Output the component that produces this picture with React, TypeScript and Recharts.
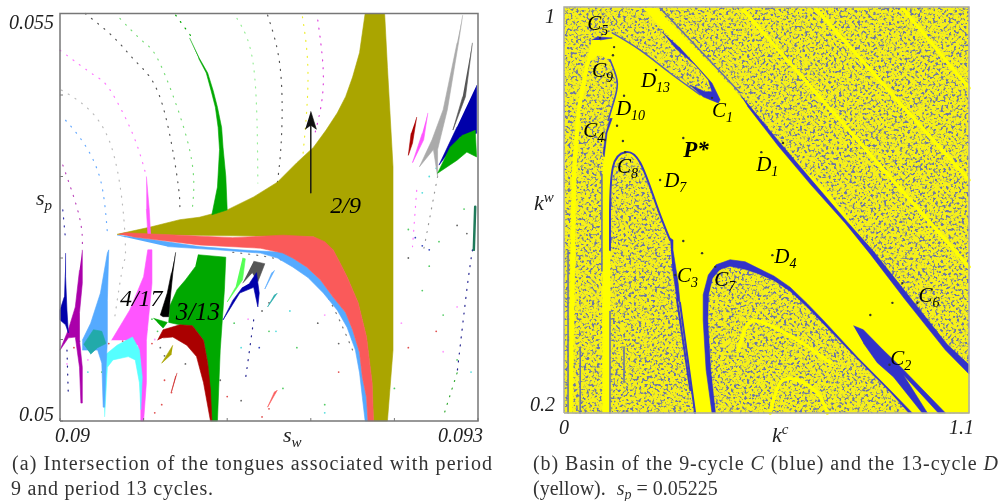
import React from 'react';
import { ScatterChart, Scatter, XAxis, YAxis } from 'recharts';

type Row = [number, number];
const SERIF = '"Liberation Serif", "DejaVu Serif", serif';

// panel (a): s_w and s_p, both in units of 1e-3
const swTicks = [90, 90.6, 91.2, 91.8, 92.4, 93];
const spTicks = [50, 51, 52, 53, 54, 55];
const swLabels: Record<number, string> = { 90: '0.09', 93: '0.093' };
const spLabels: Record<number, string> = { 50: '0.05', 55: '0.055' };

const tongue29: Row[] = [[92.19, 55], [92.17, 54.76], [92.15, 54.52], [92.1, 54.22], [92.05, 53.98], [91.99, 53.78], [91.91, 53.57], [91.82, 53.36], [91.7, 53.17], [91.56, 52.93], [91.39, 52.75], [91.2, 52.59], [91, 52.5], [90.86, 52.47], [90.65, 52.38], [90.41, 52.29], [91.82, 52.26], [91.96, 52.1], [92.06, 51.77], [92.14, 51.45], [92.2, 51.03], [92.24, 50.47], [92.25, 50], [92.35, 50], [92.39, 50.87], [92.39, 53.12], [92.35, 54.34], [92.33, 55]];
const tongueRed: Row[] = [[90.42, 52.29], [90.47, 52.31], [91.24, 52.25], [91.6, 52.28], [91.82, 52.26], [91.9, 52.2], [91.96, 52.1], [92.01, 51.94], [92.06, 51.77], [92.1, 51.61], [92.14, 51.45], [92.17, 51.24], [92.2, 51.03], [92.22, 50.75], [92.24, 50.47], [92.25, 50], [92.21, 50], [92.2, 50.29], [92.17, 50.54], [92.15, 50.84], [92.1, 51.12], [92.05, 51.33], [91.96, 51.52], [91.87, 51.73], [91.77, 51.89], [91.67, 52], [91.6, 52.06], [91.44, 52.12], [91, 52.16], [90.52, 52.26]];
const tongueSky: Row[] = [[90.41, 52.28], [90.52, 52.26], [91, 52.14], [91.29, 52.1], [91.6, 52.07], [91.67, 52], [91.77, 51.89], [91.87, 51.73], [91.96, 51.52], [92.05, 51.33], [92.1, 51.12], [92.15, 50.84], [92.17, 50.54], [92.2, 50.29], [92.21, 50], [92.19, 50], [92.17, 50.29], [92.15, 50.59], [92.12, 50.87], [92.06, 51.15], [91.99, 51.36], [91.89, 51.57], [91.78, 51.76], [91.67, 51.89], [91.56, 52], [91.44, 52.06], [91.13, 52.1], [90.77, 52.14]];
const tongue313: Row[] = [[90.99, 52.04], [91.19, 52.01], [91.18, 51.61], [91.15, 50.87], [91.13, 50], [91.09, 50], [91.06, 50.71], [91.03, 50.99], [90.95, 51.17], [90.86, 51.18], [90.78, 51.21], [90.79, 51.42], [90.84, 51.61], [90.9, 51.73], [90.97, 51.89]];
const tongueDarkRed: Row[] = [[90.7, 50.99], [90.74, 51.12], [90.86, 51.18], [90.95, 51.17], [91.03, 50.99], [91.06, 50.71], [91.08, 50.38], [91.09, 50], [91.08, 50], [91.03, 50.47], [90.98, 50.79], [90.91, 50.93], [90.81, 51.03], [90.74, 51.02]];
const tongueGreenUp: Row[] = [[90.93, 54.7], [91, 54.45], [91.06, 54.27], [91.1, 54.05], [91.13, 53.85], [91.16, 53.6], [91.17, 53.36], [91.19, 53], [91.2, 52.59], [91.09, 52.53], [91.13, 52.87], [91.145, 53.33], [91.135, 53.6], [91.115, 53.85], [91.085, 54.05], [91.05, 54.27], [90.995, 54.45]];
const tongueMagenta: Row[] = [[90.37, 50.99], [90.5, 51.36], [90.6, 51.77], [90.63, 52.1], [90.66, 52.1], [90.66, 51.69], [90.62, 50.99], [90.62, 50.47], [90.6, 50], [90.58, 50], [90.58, 50.71], [90.56, 50.93], [90.47, 50.99]];
const tongueMagentaTop: Row[] = [[90.62, 53], [90.64, 52.6], [90.65, 52.3], [90.63, 52.3], [90.62, 52.6]];
const tongueCyan: Row[] = [[90.31, 50.79], [90.41, 50.93], [90.52, 51.03], [90.57, 50.87], [90.59, 50.54], [90.58, 50.14], [90.57, 50.47], [90.54, 50.75], [90.49, 50.79], [90.38, 50.75], [90.34, 50.66], [90.32, 50.05]];
const tongueBlue: Row[] = [[90.16, 50.99], [90.22, 51.2], [90.29, 51.57], [90.34, 52.06], [90.35, 52.1], [90.34, 51.48], [90.34, 50.99], [90.33, 50.63], [90.32, 50.17], [90.31, 50.17], [90.3, 50.71], [90.27, 50.87], [90.22, 50.87], [90.16, 50.87]];
const tongueTeal: Row[] = [[90.17, 50.94], [90.24, 51.12], [90.3, 51.1], [90.33, 50.95], [90.27, 50.9], [90.22, 50.82]];
const tonguePurple: Row[] = [[90.16, 52.1], [90.16, 51.69], [90.14, 51.33], [90.14, 50.99], [90.16, 50.66], [90.16, 50.22], [90.15, 50.22], [90.14, 50.66], [90.11, 51.03], [90.06, 51.02], [90, 50.87], [90.06, 51.12], [90.11, 51.4], [90.14, 51.85]];
const tongueNavy: Row[] = [[90.04, 52.06], [90.04, 51.77], [90.05, 51.36], [90.06, 51.08], [90.04, 51.18], [90, 51.24], [90, 51.36], [90.03, 51.52]];
const tongueBlack: Row[] = [[90.83, 52.07], [90.81, 51.82], [90.79, 51.48], [90.78, 51.28], [90.74, 51.28], [90.72, 51.3], [90.77, 51.57], [90.8, 51.82]];
const tongueGreenWedge: Row[] = [[90.67, 51.26], [90.77, 51.21], [90.74, 51.14], [90.7, 51.21]];
const tongueLime: Row[] = [[91.31, 52], [91.33, 51.99], [91.31, 51.73], [91.2, 51.46], [91.26, 51.64]];
const tongueGray: Row[] = [[91.39, 51.96], [91.47, 51.93], [91.42, 51.71], [91.38, 51.82], [91.31, 51.69]];
const tongueDeepBlue: Row[] = [[91.36, 51.69], [91.41, 51.82], [91.43, 51.57], [91.42, 51.4], [91.39, 51.64], [91.29, 51.57], [91.17, 51.24], [91.24, 51.48], [91.31, 51.64]];
const tongueNavyRight: Row[] = [[92.99, 54.12], [92.99, 53.53], [92.87, 53.48], [92.72, 53.14], [92.85, 53.61]];
const tongueGreenRight: Row[] = [[92.98, 53.57], [92.99, 53.24], [92.92, 53.3], [92.85, 53.2], [92.71, 53.04], [92.8, 53.36], [92.89, 53.51]];
const tongueGrayRight: Row[] = [[92.89, 54.98], [92.86, 54.64], [92.78, 53.82], [92.71, 53.33], [92.71, 53], [92.68, 53.33], [92.58, 53.12], [92.67, 53.45], [92.75, 53.82], [92.85, 54.64]];
const tonguePinkRight: Row[] = [[92.64, 53.78], [92.61, 53.45], [92.53, 53.17], [92.6, 53.53]];
const tongueRedRight: Row[] = [[92.56, 53.73], [92.53, 53.41], [92.5, 53.26], [92.52, 53.53]];
const tongueSmoke: Row[] = [[92.96, 54.64], [92.91, 53.98], [92.82, 53.57], [92.89, 53.98]];
const sliverRed: Row[] = [[90.84, 50.59], [90.8, 50.36], [90.83, 50.55]];
const sliverSalmon: Row[] = [[91.56, 50.38], [91.49, 50.17], [91.54, 50.36]];
const sliverTeal: Row[] = [[91.56, 51.57], [91.49, 51.4], [91.54, 51.55]];
const sliverSky: Row[] = [[91.54, 51.85], [91.47, 51.62], [91.52, 51.82]];
const sliverOlive: Row[] = [[90.81, 50.93], [90.73, 50.71], [90.8, 50.82]];

const dottedArcs: { color: string; rows: Row[] }[] = [
  { color: '#555555', rows: [[90.18, 55], [90.39, 54.7], [90.55, 54.4], [90.72, 53.96], [90.84, 53.0], [90.86, 52.6]] },
  { color: '#77dd77', rows: [[90.43, 54.94], [90.6, 54.65], [90.73, 54.34], [90.93, 53.33], [90.95, 52.61]] },
  { color: '#00a800', rows: [[90.83, 54.98], [90.95, 54.7]] },
  { color: '#ff77ff', rows: [[90, 54.55], [90.24, 54.25], [90.36, 54.06], [90.52, 53.53], [90.62, 53]] },
  { color: '#bbbbbb', rows: [[90.01, 54.06], [90.19, 53.85], [90.36, 53.41], [90.45, 52.63], [90.47, 52.06], [90.45, 51.89], [90.39, 51.24]] },
  { color: '#66aaff', rows: [[90.04, 53.69], [90.17, 53.41], [90.29, 52.96], [90.34, 52.31]] },
  { color: '#bb44bb', rows: [[90.02, 53.14], [90.14, 52.5], [90.16, 52.1]] },
  { color: '#3333aa', rows: [[90.02, 52.59], [90.04, 52.22]] },
  { color: '#99ee99', rows: [[91.27, 54.94], [91.39, 54.34], [91.42, 52.92]] },
  { color: '#555555', rows: [[91.49, 54.98], [91.58, 54.34], [91.59, 53.5], [91.56, 52.92]] },
  { color: '#eeee33', rows: [[91.74, 54.96], [91.78, 54.22], [91.74, 53.2]] },
  { color: '#dd44dd', rows: [[91.85, 54.92], [91.89, 54.15], [91.83, 53.53]] },
  { color: '#777777', rows: [[91.24, 52.07], [91.72, 51.89], [91.96, 51.4], [92.1, 50.87]] },
  { color: '#999999', rows: [[92.71, 53], [92.61, 52.1]] },
  { color: '#ff77ff', rows: [[92.56, 52.83], [92.53, 52.14]] },
  { color: '#22228f', rows: [[92.96, 52.1], [92.92, 51.61], [92.85, 50.59]] },
  { color: '#33aa33', rows: [[92.85, 50.59], [92.75, 50.05]] },
  { color: '#22228f', rows: [[91.39, 51.24], [91.33, 50.5]] },
  { color: '#22228f', rows: [[90.05, 50.87], [90.06, 50.3]] },
];

const dustGreen: Row[] = [[90.62, 51.12], [90.6, 51.2], [90.55, 51.1], [90.45, 51.05], [90.66, 51.25], [90.7, 51.1], [90.14, 50.98], [90.3, 50.6], [91.25, 51.2], [91.5, 51.1], [91.7, 50.9], [92.1, 51], [92.6, 51.6], [92.75, 51.3], [92.4, 50.4], [91.6, 50.4], [91.9, 50.2], [92.85, 50.75], [92.9, 52.6], [92.72, 52.2], [92.5, 52.35], [92.65, 51.9]];
const dustRed: Row[] = [[90.1, 50.9], [90.2, 50.9], [90.35, 50.95], [90.45, 50.98], [90.5, 50.9], [90.58, 51], [90.66, 50.95], [90.75, 50.5], [90.73, 50.2], [90.8, 50.35], [90.68, 50.1], [91.5, 50.15], [91.45, 50.05], [91.2, 50.3], [92.5, 50.9], [92, 50.6], [92.7, 51.1]];
const dustPink: Row[] = [[90.2, 50.75], [90.3, 50.85], [90.42, 50.9], [90.55, 50.95], [90.05, 50.7], [90.68, 51], [91.35, 51.25], [91.9, 51.3], [92.45, 51.2], [92.3, 50.8], [91.1, 50.8], [92.75, 50.85], [92.85, 51.4]];
const dustGray: Row[] = [[90.75, 50.8], [90.72, 50.9], [90.9, 50.7], [91.15, 50.5], [91.3, 50.25], [91.45, 51.35], [91.5, 51.45], [92.85, 52.4], [92.92, 52.3], [92.5, 52], [92.3, 52.3], [92, 50.95], [91.85, 51.2]];
const dustCyan: Row[] = [[90.2, 50.6], [91.55, 51.1], [91.65, 51.35], [91.9, 50.1], [92.65, 53], [92.7, 53.1], [92.95, 50.6], [92.3, 51], [91.3, 50.9], [92.6, 52.8]];
const dustBlue: Row[] = [[92.55, 52.25], [92.6, 52.15], [92.65, 52.1], [91.43, 50.9]];

const arrowShaft: Row[] = [[91.8, 52.8], [91.8, 53.7]];
const arrowHead: Row[] = [[91.8, 53.8], [91.84, 53.58], [91.8, 53.63], [91.76, 53.58]];
const rightEdgeTongue: Row[] = [[92.98, 52.63], [92.97, 52.1]];

const tongueNames = [
  { main: '2/9', x: 91.94, y: 52.55, size: 24 },
  { main: '4/17', x: 90.43, y: 51.41, size: 24 },
  { main: '3/13', x: 90.83, y: 51.24, size: 25 },
];

// panel (b): k^c and k^w
const kcTicks = [0, 1.1];
const kwTicks = [0.2, 1];
const kcLabels: Record<number, string> = { 0: '0', 1.1: '1.1' };
const kwLabels: Record<number, string> = { 0.2: '0.2', 1: '1' };

const basinRect: Row[] = [[0, 0.2], [1.1, 0.2], [1.1, 1], [0, 1]];
const basinMain: Row[] = [[0.076, 0.935], [0.131, 0.949], [0.207, 0.915], [0.288, 0.87], [0.37, 0.827], [0.419, 0.811], [0.405, 0.836], [0.343, 0.901], [0.269, 0.955], [0.215, 0.998], [0.25, 0.998], [0.362, 0.915], [0.47, 0.831], [0.587, 0.726], [0.723, 0.63], [0.84, 0.517], [1.1, 0.277], [1.1, 0.2], [0.356, 0.2], [0.334, 0.324], [0.307, 0.456], [0.288, 0.541], [0.253, 0.606], [0.207, 0.693], [0.166, 0.714], [0.133, 0.685], [0.125, 0.594], [0.125, 0.2], [0.011, 0.2], [0.016, 0.423], [0.022, 0.679], [0.035, 0.797], [0.054, 0.876]];
const islandC9: Row[] = [[0.092, 0.905], [0.125, 0.896], [0.144, 0.856], [0.139, 0.823], [0.12, 0.777], [0.109, 0.732], [0.103, 0.673], [0.103, 0.2], [0.024, 0.2], [0.03, 0.423], [0.035, 0.679], [0.046, 0.797], [0.071, 0.892]];
const archOuter: Row[] = [[0.402, 0.2], [0.386, 0.285], [0.378, 0.383], [0.378, 0.433], [0.392, 0.472], [0.413, 0.492], [0.451, 0.502], [0.492, 0.498], [0.525, 0.486], [0.57, 0.47], [0.614, 0.448], [0.66, 0.416], [0.704, 0.383], [0.797, 0.31], [0.886, 0.245], [0.946, 0.2]];
const archInner: Row[] = [[0.413, 0.2], [0.4, 0.285], [0.392, 0.383], [0.394, 0.433], [0.405, 0.466], [0.424, 0.482], [0.451, 0.488], [0.492, 0.482], [0.525, 0.474], [0.57, 0.46], [0.614, 0.439], [0.66, 0.408], [0.704, 0.375], [0.797, 0.305], [0.886, 0.24], [0.935, 0.2]];
const blueC1: Row[] = [[0.266, 0.951], [0.315, 0.919], [0.37, 0.876], [0.402, 0.85], [0.424, 0.817], [0.419, 0.811], [0.378, 0.823], [0.343, 0.846], [0.383, 0.833], [0.402, 0.833], [0.392, 0.856], [0.356, 0.886], [0.302, 0.919]];
const blueC2: Row[] = [[0.786, 0.372], [0.813, 0.364], [0.867, 0.324], [0.914, 0.291], [0.949, 0.265], [1.036, 0.2], [1.017, 0.2], [0.922, 0.275], [0.987, 0.2], [0.973, 0.2], [0.895, 0.271], [0.851, 0.299], [0.813, 0.338]];
const blueC3: Row[] = [[0.288, 0.545], [0.296, 0.541], [0.296, 0.521], [0.31, 0.456], [0.315, 0.417], [0.307, 0.423], [0.294, 0.488]];
const blueC4: Row[] = [[0.131, 0.781], [0.117, 0.752], [0.109, 0.705], [0.106, 0.712], [0.114, 0.752], [0.125, 0.781]];
const blueC5: Row[] = [[0.076, 0.935], [0.092, 0.941], [0.131, 0.939], [0.098, 0.935]];
const blueC6: Row[] = [[0.478, 0.828], [0.587, 0.732], [0.677, 0.655], [0.769, 0.577], [0.84, 0.519], [0.949, 0.419], [1.041, 0.335], [1.1, 0.295], [1.1, 0.277], [1.036, 0.324], [0.927, 0.423], [0.832, 0.513], [0.764, 0.574], [0.669, 0.651], [0.582, 0.726], [0.498, 0.805]];

const yellowStrips: Row[][] = [
  [[0.487, 0.994], [1.1, 0.488]],
  [[0.682, 0.998], [1.1, 0.659]],
  [[0.919, 0.998], [1.1, 0.84]],
];
const innerArcs: Row[][] = [
  [[0.473, 0.324], [0.498, 0.374], [0.541, 0.378], [0.634, 0.344], [0.723, 0.299]],
  [[0.56, 0.2], [0.587, 0.259], [0.634, 0.265], [0.688, 0.239], [0.715, 0.2]],
];
const edgeC8: Row[] = [[0.125, 0.521], [0.125, 0.594], [0.133, 0.685], [0.166, 0.714], [0.207, 0.693], [0.253, 0.606], [0.288, 0.541]];
const edgeC9: Row[] = [[0.125, 0.896], [0.144, 0.856], [0.139, 0.823], [0.12, 0.777]];
const edgeTop: Row[] = [[0.131, 0.949], [0.207, 0.915], [0.288, 0.87], [0.37, 0.827]];
const edgeStrip: Row[] = [[0.261, 0.998], [0.478, 0.831]];
const tailsC3: Row[][] = [
  [[0.315, 0.417], [0.356, 0.2]],
  [[0.307, 0.423], [0.343, 0.245]],
];
const grayStreaks: Row[][] = [
  [[0.011, 0.2], [0.011, 0.52]],
  [[0.044, 0.2], [0.044, 0.33]],
  [[0.125, 0.2], [0.125, 0.4]],
  [[0.163, 0.26], [0.163, 0.33]],
  [[0.103, 0.48], [0.103, 0.67]],
];

const cyclePoints: Row[] = [[0.136, 0.921], [0.133, 0.905], [0.25, 0.876], [0.163, 0.825], [0.144, 0.766], [0.16, 0.736], [0.324, 0.742], [0.536, 0.714], [0.261, 0.659], [0.324, 0.539], [0.375, 0.515], [0.566, 0.511], [0.892, 0.417], [0.832, 0.393], [0.919, 0.456], [0.96, 0.417], [0.884, 0.295], [0.411, 0.488], [0.302, 0.472], [0.402, 0.821], [0.111, 0.738], [0.166, 0.714], [0.098, 0.939], [0.595, 0.732]];

const cycleNames = [
  { main: 'C', sub: '5', x: 0.063, y: 0.955 },
  { main: 'C', sub: '9', x: 0.076, y: 0.862 },
  { main: 'D', sub: '13', x: 0.209, y: 0.842 },
  { main: 'C', sub: '1', x: 0.402, y: 0.783 },
  { main: 'D', sub: '10', x: 0.141, y: 0.787 },
  { main: 'C', sub: '4', x: 0.052, y: 0.744 },
  { main: 'D', sub: '1', x: 0.522, y: 0.677 },
  { main: 'C', sub: '8', x: 0.144, y: 0.673 },
  { main: 'D', sub: '7', x: 0.272, y: 0.645 },
  { main: 'C', sub: '3', x: 0.307, y: 0.458 },
  { main: 'C', sub: '7', x: 0.408, y: 0.45 },
  { main: 'D', sub: '4', x: 0.571, y: 0.496 },
  { main: 'C', sub: '6', x: 0.963, y: 0.419 },
  { main: 'C', sub: '2', x: 0.886, y: 0.295 },
];
const fixedPointName = [{ main: 'P*', x: 0.324, y: 0.705 }];

const toPoints = (rows: Row[]) => rows.map(([x, y]) => ({ x, y }));
const NoDot = () => null;

const region = (key: string, rows: Row[], fill: string) => (
  <Scatter key={key} data={toPoints(rows)} shape={NoDot} isAnimationActive={false}
    line={{ fill, stroke: fill, strokeWidth: 0.6 }} lineJointType="linear" />
);
const stroke = (key: string, rows: Row[], color: string, width: number, dash?: string) => (
  <Scatter key={key} data={toPoints(rows)} shape={NoDot} isAnimationActive={false}
    line={{ fill: 'none', stroke: color, strokeWidth: width, strokeDasharray: dash, strokeLinecap: 'round' }}
    lineJointType={rows.length > 2 ? 'natural' : 'linear'} />
);
const frame = (key: string, rows: Row[], color: string) => (
  <Scatter key={key} data={toPoints(rows)} shape={NoDot} isAnimationActive={false}
    line={{ fill: 'none', stroke: color, strokeWidth: 1.5 }} lineJointType="linear" />
);
const dust = (key: string, rows: Row[], color: string) => (
  <Scatter key={key} data={toPoints(rows)} isAnimationActive={false}
    shape={(p: any) => <circle cx={p.cx} cy={p.cy} r={0.9} fill={color} />} />
);

const Name = (p: any) => (
  <text x={p.cx} y={p.cy} fontFamily={SERIF} fontStyle="italic" fontSize={p.payload.size ?? 21} fill="#000">
    {p.payload.main}
    {p.payload.sub && <tspan dy={5} fontSize={14}>{p.payload.sub}</tspan>}
  </text>
);
const BoldName = (p: any) => (
  <text x={p.cx} y={p.cy} fontFamily={SERIF} fontStyle="italic" fontWeight="bold" fontSize={23} fill="#000">{p.payload.main}</text>
);

const tickText = { fontFamily: SERIF, fontStyle: 'italic', fontSize: 20, fill: '#222' } as const;

const bottomTick = (labels: Record<number, string>, mark: number, last: number) => (p: any) => {
  const text = labels[p.payload.value];
  return (
    <g>
      {mark > 0 && <line x1={p.x} x2={p.x} y1={p.y} y2={p.y - mark} stroke="#777" />}
      {text && (
        <text {...tickText} x={p.payload.value === last ? p.x + 5 : p.x - 5} y={p.y + 21}
          textAnchor={p.payload.value === last ? 'end' : 'start'}>{text}</text>
      )}
    </g>
  );
};
const leftTick = (labels: Record<number, string>, mark: number, top: number, right: number, topDy: number, lowDy: number) => (p: any) => {
  const text = labels[p.payload.value];
  return (
    <g>
      {mark > 0 && <line x1={p.x} x2={p.x + mark} y1={p.y} y2={p.y} stroke="#777" />}
      {text && (
        <text {...tickText} x={p.x - right} y={p.payload.value === top ? p.y + topDy : p.y + lowDy} textAnchor="end">{text}</text>
      )}
    </g>
  );
};
const topMark = (p: any) => <line x1={p.x} x2={p.x} y1={p.y} y2={p.y + 3} stroke="#777" />;
const rightMark = (p: any) => <line x1={p.x} x2={p.x - 3} y1={p.y} y2={p.y} stroke="#777" />;

const TonguesPanel = () => (
  <ScatterChart width={500} height={450} margin={{ top: 13.5, right: 22, bottom: 0, left: 0 }}>
    <XAxis type="number" dataKey="x" domain={[90, 93]} ticks={swTicks} height={29} interval={0} tickSize={0} tickMargin={0}
      axisLine={false} tickLine={false} tick={bottomTick(swLabels, 3, 93)} />
    <YAxis type="number" dataKey="y" domain={[50, 55]} ticks={spTicks} width={60} interval={0} tickSize={0} tickMargin={0}
      axisLine={false} tickLine={false} tick={leftTick(spLabels, 3, 55, 6, 15, 0)} />
    <XAxis xAxisId="top" orientation="top" type="number" dataKey="x" domain={[90, 93]} ticks={swTicks} height={0} interval={0}
      tickSize={0} tickMargin={0} axisLine={false} tickLine={false} tick={topMark} />
    <YAxis yAxisId="right" orientation="right" type="number" dataKey="y" domain={[50, 55]} ticks={spTicks} width={0} interval={0}
      tickSize={0} tickMargin={0} axisLine={false} tickLine={false} tick={rightMark} />

    {dottedArcs.map((a, i) => stroke(`arc${i}`, a.rows, a.color, 1.2, '1 7'))}
    {dust('dg', dustGreen, '#55cc66')}
    {dust('dr', dustRed, '#e05050')}
    {dust('dp', dustPink, '#ff99ff')}
    {dust('dk', dustGray, '#666666')}
    {dust('dc', dustCyan, '#55dddd')}
    {dust('db', dustBlue, '#3344bb')}

    {region('sky', tongueSky, '#55aaff')}
    {region('t29', tongue29, '#aaa500')}
    {region('red', tongueRed, '#fa5a5a')}
    {region('t313', tongue313, '#00a800')}
    {region('dred', tongueDarkRed, '#aa0000')}
    {region('gup', tongueGreenUp, '#00a800')}
    {region('mag', tongueMagenta, '#ff55ff')}
    {region('magt', tongueMagentaTop, '#ff55ff')}
    {region('cyan', tongueCyan, '#55ffff')}
    {region('blue', tongueBlue, '#55aaff')}
    {region('teal', tongueTeal, '#22aaaa')}
    {region('pur', tonguePurple, '#aa00aa')}
    {region('navy', tongueNavy, '#0000aa')}
    {region('blk', tongueBlack, '#000000')}
    {region('gw', tongueGreenWedge, '#00a800')}
    {region('lime', tongueLime, '#55ff55')}
    {region('gray', tongueGray, '#555555')}
    {region('deep', tongueDeepBlue, '#0000aa')}
    {region('gr', tongueGrayRight, '#aaaaaa')}
    {region('nr', tongueNavyRight, '#0000aa')}
    {region('ger', tongueGreenRight, '#00a800')}
    {region('pr', tonguePinkRight, '#ff55ff')}
    {region('rr', tongueRedRight, '#aa0000')}
    {region('smoke', tongueSmoke, '#555555')}
    {region('s1', sliverRed, '#cc2222')}
    {region('s2', sliverSalmon, '#fa5a5a')}
    {region('s3', sliverTeal, '#22aaaa')}
    {region('s4', sliverSky, '#55aaff')}
    {region('s5', sliverOlive, '#aaa500')}
    {stroke('edgeT', rightEdgeTongue, '#1f7a5a', 2.5)}

    {stroke('shaft', arrowShaft, '#111', 1.4)}
    {region('head', arrowHead, '#111')}
    <Scatter data={tongueNames} shape={Name} isAnimationActive={false} />
    {frame('frameA', [[90, 50], [93, 50], [93, 55], [90, 55], [90, 50]], '#777')}
  </ScatterChart>
);

const BasinPanel = () => (
  <ScatterChart width={501} height={450} margin={{ top: 7, right: 32, bottom: 0, left: 0 }}>
    <defs>
      <filter id="speckleNoise" x="0" y="0" width="100%" height="100%" colorInterpolationFilters="sRGB">
        <feTurbulence type="fractalNoise" baseFrequency="0.38" numOctaves={2} seed={7} result="n" />
        <feColorMatrix in="n" type="matrix" values="0 0 0 0 0.42  0 0 0 0 0.46  0 0 0 0 0.66  6 0 0 0 -3.1" result="spots" />
        <feMerge>
          <feMergeNode in="SourceGraphic" />
          <feMergeNode in="spots" />
        </feMerge>
      </filter>
      <pattern id="speckle" width={420} height={420} patternUnits="userSpaceOnUse">
        <rect width={420} height={420} fill="#f6f01a" filter="url(#speckleNoise)" />
      </pattern>
    </defs>
    <XAxis type="number" dataKey="x" domain={[0, 1.1]} ticks={kcTicks} height={37} interval={0} tickSize={0} tickMargin={0}
      axisLine={false} tickLine={false} tick={bottomTick(kcLabels, 0, 1.1)} />
    <YAxis type="number" dataKey="y" domain={[0.2, 1]} ticks={kwTicks} width={64} interval={0} tickSize={0} tickMargin={0}
      axisLine={false} tickLine={false} tick={leftTick(kwLabels, 0, 1, 9, 16, -2)} />

    {region('bg', basinRect, 'url(#speckle)')}
    {region('main', basinMain, '#ffff00')}
    {region('c9', islandC9, 'url(#speckle)')}
    {yellowStrips.map((rows, i) => stroke(`strip${i}`, rows, '#ffff00', 3.5))}
    {grayStreaks.map((rows, i) => stroke(`streak${i}`, rows, '#6670a6', 1.5))}
    {region('archO', archOuter, '#3232c8')}
    {region('archI', archInner, 'url(#speckle)')}
    {innerArcs.map((rows, i) => stroke(`inner${i}`, rows, '#ffff00', 3.5))}
    {stroke('e8', edgeC8, '#3a3ac0', 2)}
    {stroke('e9', edgeC9, '#4a50b8', 1.6)}
    {stroke('eT', edgeTop, '#5a62b0', 1.5)}
    {stroke('eS', edgeStrip, '#6670a6', 1.6)}
    {tailsC3.map((rows, i) => stroke(`tail${i}`, rows, '#3a3ac0', 2))}
    {region('c1', blueC1, '#3232c8')}
    {region('c2', blueC2, '#3232c8')}
    {region('c3', blueC3, '#3232c8')}
    {region('c4', blueC4, '#3232c8')}
    {region('c5', blueC5, '#3232c8')}
    {region('c6', blueC6, '#3232c8')}
    <Scatter data={toPoints(cyclePoints)} isAnimationActive={false}
      shape={(p: any) => <circle cx={p.cx} cy={p.cy} r={1.2} fill="#333" />} />
    <Scatter data={cycleNames} shape={Name} isAnimationActive={false} />
    <Scatter data={fixedPointName} shape={BoldName} isAnimationActive={false} />
    {frame('frameB', [[0, 0.2], [1.1, 0.2], [1.1, 1], [0, 1], [0, 0.2]], '#aaa')}
  </ScatterChart>
);

const capStyle = { fontFamily: SERIF, fontSize: 20, fill: '#333' } as const;
const titleStyle = { fontFamily: SERIF, fontStyle: 'italic', fontSize: 22, fill: '#222' } as const;

const Overlay = () => (
  <svg width={1001} height={501} style={{ position: 'absolute', left: 0, top: 0, filter: 'blur(0.3px)' }}>
    <text {...titleStyle} x={36} y={205}>s<tspan dy={5} fontSize={15}>p</tspan></text>
    <text {...titleStyle} x={283} y={442}>s<tspan dy={5} fontSize={15}>w</tspan></text>
    <text {...titleStyle} x={534} y={210}>k<tspan dy={-8} fontSize={15}>w</tspan></text>
    <text {...titleStyle} x={772} y={442}>k<tspan dy={-8} fontSize={15}>c</tspan></text>
    <text {...capStyle} x={12} y={470} textLength={480}>(a) Intersection of the tongues associated with period</text>
    <text {...capStyle} x={11} y={495} textLength={202}>9 and period 13 cycles.</text>
    <text {...capStyle} x={533} y={470} textLength={465}>
      (b) Basin of the 9-cycle <tspan fontStyle="italic">C</tspan> (blue) and the 13-cycle <tspan fontStyle="italic">D</tspan>
    </text>
    <text {...capStyle} x={533} y={495}>
      (yellow).  <tspan fontStyle="italic" dx={6}>s</tspan><tspan fontStyle="italic" fontSize={14} dy={4}>p</tspan><tspan dy={-4} dx={5}>= 0.05225</tspan>
    </text>
  </svg>
);

export default function App() {
  return (
    <div style={{ position: 'absolute', left: 0, top: 0, width: 1001, height: 501, background: '#fff', overflow: 'hidden' }}>
      <div style={{ position: 'absolute', left: 0, top: 0, filter: 'blur(0.35px)' }}><TonguesPanel /></div>
      <div style={{ position: 'absolute', left: 500, top: 0, filter: 'blur(0.35px)' }}><BasinPanel /></div>
      <Overlay />
    </div>
  );
}
